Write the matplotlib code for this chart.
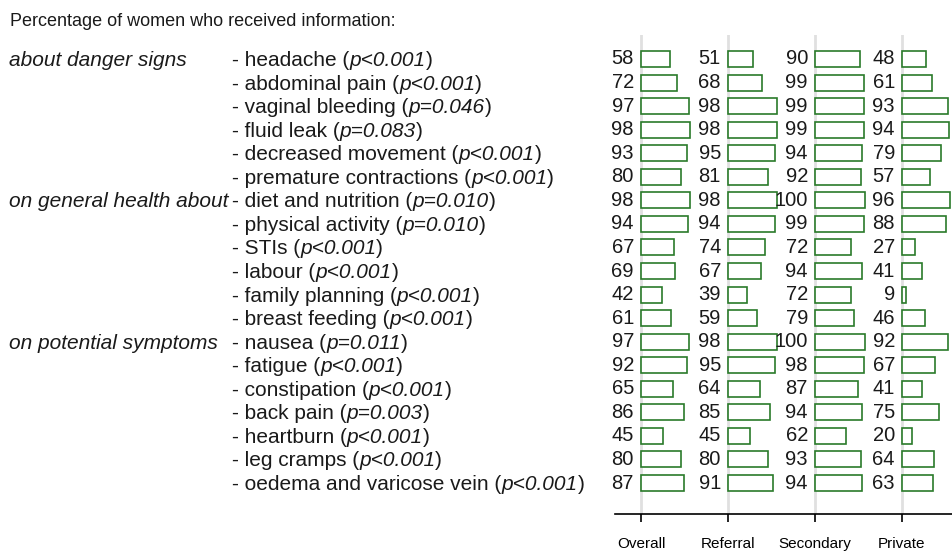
import matplotlib
matplotlib.use('Agg')
import matplotlib.pyplot as plt
import matplotlib.transforms as mtransforms

plt.rcParams['font.family'] = ['Liberation Sans', 'DejaVu Sans']

# ---------------------------------------------------------------------
# data
title = "Percentage of women who received information:"
sectors = ['Overall', 'Referral', 'Secondary', 'Private']

items = ['headache', 'abdominal pain', 'vaginal bleeding', 'fluid leak',
         'decreased movement', 'premature contractions',
         'diet and nutrition', 'physical activity', 'STIs', 'labour',
         'family planning', 'breast feeding',
         'nausea', 'fatigue', 'constipation', 'back pain', 'heartburn',
         'leg cramps', 'oedema and varicose vein']
pvalues = ['p<0.001', 'p<0.001', 'p=0.046', 'p=0.083', 'p<0.001', 'p<0.001',
           'p=0.010', 'p=0.010', 'p<0.001', 'p<0.001', 'p<0.001', 'p<0.001',
           'p=0.011', 'p<0.001', 'p<0.001', 'p=0.003', 'p<0.001', 'p<0.001',
           'p<0.001']
groups = {0: 'about danger signs', 6: 'on general health about',
          12: 'on potential symptoms'}

overall = [58, 72, 97, 98, 93, 80, 98, 94, 67, 69, 42, 61, 97, 92, 65, 86, 45, 80, 87]
referral = [51, 68, 98, 98, 95, 81, 98, 94, 74, 67, 39, 59, 98, 95, 64, 85, 45, 80, 91]
secondary = [90, 99, 99, 99, 94, 92, 100, 99, 72, 94, 72, 79, 100, 98, 87, 94, 62, 93, 94]
private = [48, 61, 93, 94, 79, 57, 96, 88, 27, 41, 9, 46, 92, 67, 41, 75, 20, 64, 63]
values = [overall, referral, secondary, private]

# ---------------------------------------------------------------------
W, H = 953, 551
fig = plt.figure(figsize=(W / 100, H / 100), dpi=100)

# axes box in pixels: x 615..953, y 35..514
ax = fig.add_axes([615 / W, (H - 514) / H, (W - 615) / W, (514 - 35) / H])

spacing = 87.0        # px between sector columns
full = 50.0           # px for 100 %
scale = full / spacing / 100.0
rowpx = 23.56
nrow = len(items)

for k, vals in enumerate(values):
    ax.axvline(k, color='#e0e0e0', lw=2, zorder=0)
    ax.barh(range(nrow), [v * scale for v in vals], left=k, height=16 / rowpx,
            color='white', edgecolor='#2a7a2a', linewidth=1.2, zorder=2)
    for i, v in enumerate(vals):
        ax.text(k - 7 / spacing, i, str(v), ha='right', va='center',
                fontsize=14.5, color='#1a1a1a', zorder=3)

ax.set_xlim(-26 / spacing, 312 / spacing)
ax.set_ylim(18 + 31 / rowpx, -24 / rowpx)
ax.set_xticks(range(len(sectors)))
ax.set_xticklabels(sectors, fontsize=11)
ax.set_yticks([])
for s in ['top', 'right', 'left']:
    ax.spines[s].set_visible(False)
ax.spines['bottom'].set_linewidth(1.2)
ax.tick_params(axis='x', length=6, width=1.2, pad=10.5)

# ---------------------------------------------------------------------
# left hand labels (x in figure fraction, y follows the rows)
trans = mtransforms.blended_transform_factory(fig.transFigure, ax.transData)
fig.canvas.draw()
renderer = fig.canvas.get_renderer()


def put_pieces(x, y, pieces, size=15):
    for s, style in pieces:
        t = fig.text(x, y, s, style=style, fontsize=size, color='#1a1a1a',
                     ha='left', va='baseline', transform=trans)
        bb = t.get_window_extent(renderer)
        x += bb.width / fig.bbox.width


base_off = 7 / rowpx   # move baseline so text sits centered on row
for i, (name, p) in enumerate(zip(items, pvalues)):
    put_pieces(232 / W, i + base_off,
               [('- ' + name + ' (', 'normal'), (p, 'italic'), (')', 'normal')])
for i, g in groups.items():
    fig.text(9 / W, i + base_off, g, style='italic', fontsize=15,
             color='#1a1a1a', ha='left', va='baseline', transform=trans)

fig.text(10 / W, 1 - 21 / H, title, fontsize=13, color='#1a1a1a',
         ha='left', va='center')

fig.savefig('out.png', dpi=100)
